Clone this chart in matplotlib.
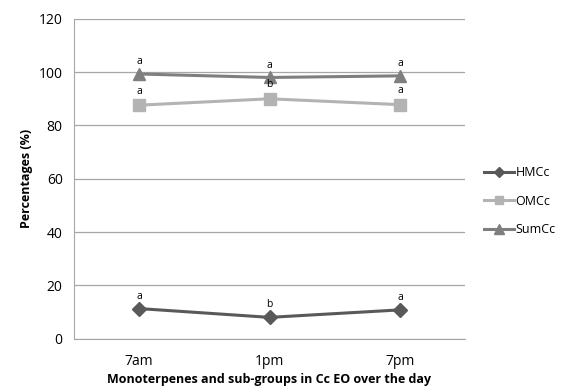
import matplotlib
matplotlib.use("Agg")
import matplotlib.pyplot as plt

plt.rcParams['font.family'] = ['Open Sans', 'DejaVu Sans']

times = ["7am", "1pm", "7pm"]
hmcc = [11.3, 8.0, 10.8]
omcc = [87.6, 90.0, 87.8]
sumcc = [99.3, 98.0, 98.6]
hmcc_letters = ["a", "b", "a"]
omcc_letters = ["a", "b", "a"]
sumcc_letters = ["a", "a", "a"]

fig = plt.figure(figsize=(5.68, 3.92), dpi=100)
ax = fig.add_axes([0.130, 0.136, 0.689, 0.816])

x = range(len(times))
ax.plot(x, hmcc, color="#595959", lw=2.2, marker="D", ms=7, label="HMCc")
ax.plot(x, omcc, color="#b3b3b3", lw=2.2, marker="s", ms=8, label="OMCc")
ax.plot(x, sumcc, color="#7f7f7f", lw=2.2, marker="^", ms=9, label="SumCc")

# significance letters
for i in x:
    ax.annotate(hmcc_letters[i], (i, hmcc[i]), xytext=(0, 5), textcoords="offset points",
                ha="center", va="bottom", fontsize=7.5)
    ax.annotate(omcc_letters[i], (i, omcc[i]), xytext=(0, 6), textcoords="offset points",
                ha="center", va="bottom", fontsize=7.5)
    ax.annotate(sumcc_letters[i], (i, sumcc[i]), xytext=(0, 5), textcoords="offset points",
                ha="center", va="bottom", fontsize=7.5)

ax.set_xlim(-0.5, 2.5)
ax.set_ylim(0, 120)
ax.set_yticks(range(0, 121, 20))
ax.set_xticks(list(x))
ax.set_xticklabels(times)
ax.grid(axis="y", color="#a6a6a6", lw=0.9)
ax.set_axisbelow(True)
for s in ["top", "right"]:
    ax.spines[s].set_visible(False)
for s in ["left", "bottom"]:
    ax.spines[s].set_color("#a6a6a6")
ax.tick_params(length=0, labelsize=10, pad=8)
ax.tick_params(axis="x", pad=11)

ax.set_ylabel("Percentages (%)", fontsize=9, fontweight="bold")
ax.set_xlabel("Monoterpenes and sub-groups in Cc EO over the day", fontsize=9, fontweight="bold", labelpad=3)

ax.legend(loc="center left", bbox_to_anchor=(1.02, 0.43), frameon=False, fontsize=9,
          handlelength=2.4, labelspacing=1.25, handletextpad=0.1, markerscale=0.75)

plt.savefig("out.png", dpi=100)
